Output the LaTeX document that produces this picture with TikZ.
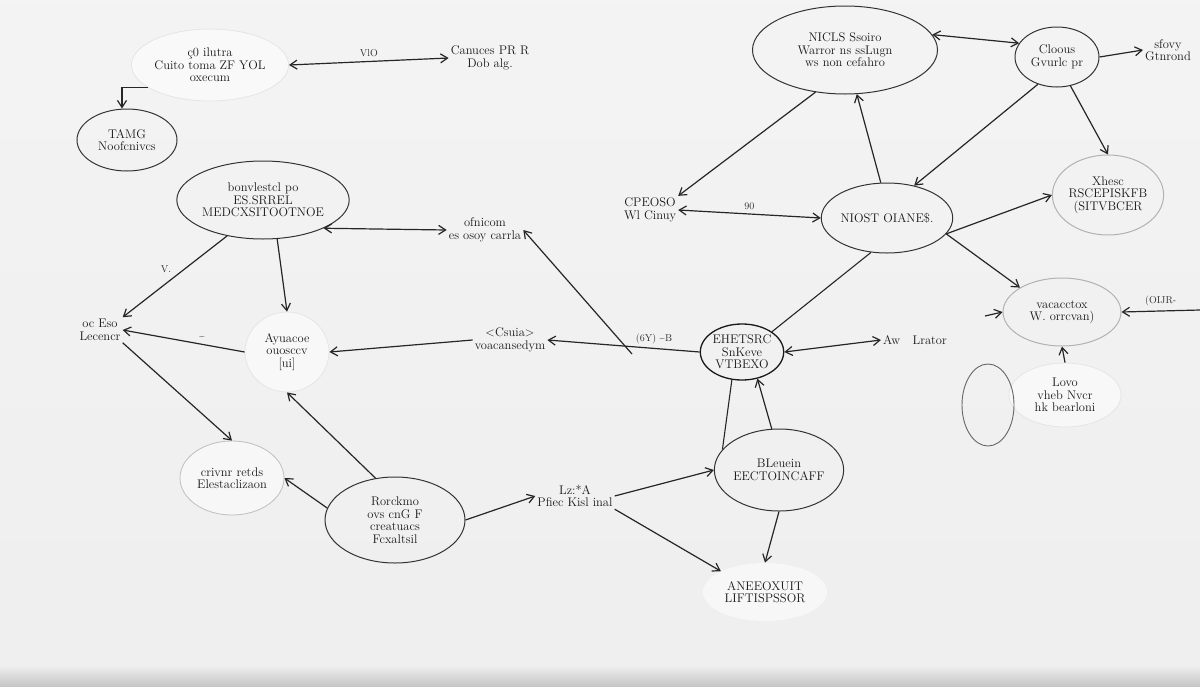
\documentclass[tikz,border=0pt]{standalone}
\usetikzlibrary{shapes.geometric,arrows.meta}
\begin{document}
\begin{tikzpicture}[x=1pt,y=-1pt,
  hand/.style={font=\fontsize{12.5}{12.5}\selectfont, text=black!90, align=center},
  ell/.style={hand, ellipse, draw=black!80, line width=1pt, inner sep=0pt},
  faintell/.style={hand, ellipse, draw=black!10, fill=white, fill opacity=0.5, text opacity=1, line width=0.8pt, inner sep=0pt},
  txt/.style={hand, inner sep=2pt},
  con/.style={draw=black!85, line width=1.2pt, -{Straight Barb[length=7pt,width=9pt]}},
  bi/.style={draw=black!85, line width=1.2pt, {Straight Barb[length=7pt,width=9pt]}-{Straight Barb[length=7pt,width=9pt]}},
  plain/.style={draw=black!85, line width=1.1pt},
  lbl/.style={font=\fontsize{10}{10}\selectfont, text=black!80, inner sep=1pt}
]
% background
\shade[top color=gray!9, bottom color=gray!13] (0,0) rectangle (1200,686);
\shade[top color=gray!13, bottom color=gray!45] (0,666) rectangle (1200,686);
\useasboundingbox (0,0) rectangle (1200,686);

% nodes
\node[faintell, minimum width=135, minimum height=72] (n1) at (210,65) {ç0 ilutra\\ Cuito toma ZF YOL\\ oxecum};
\node[txt] (n2) at (490,58) {Canuces PR R\\ Dob alg.};
\node[ell, minimum width=100, minimum height=62] (n3) at (127,140) {TAMG\\ Noofcnivcs};
\node[ell, minimum width=152, minimum height=78] (n4) at (263,200) {bonvlestcl po\\ ES.SRREL\\ MEDCXSITOOTNOE};
\node[txt] (n5) at (485,230) {ofnicom\\ es osoy carrla};
\node[txt] (n6) at (650,210) {CPEOSO\\ Wl Cinuy};
\node[ell, minimum width=130, minimum height=70] (n7) at (887,218) {NIOST OIANE\$.};
\node[ell, minimum width=185, minimum height=88] (n8) at (845,50) {NICLS Ssoiro\\ Warror ns ssLugn\\ ws non cefahro};
\node[ell, minimum width=84, minimum height=60] (n9) at (1057,57) {Cloous\\ Gvurlc pr};
\node[txt] (n10) at (1168,50) {sfovy\\ Gtnrond};
\node[ell, draw=black!30, minimum width=102, minimum height=80] (n11) at (1108,195) {Xhesc\\ RSCEPISKFB\\ (SITVBCER};
\node[ell, draw=black!30, minimum width=118, minimum height=68] (n12) at (1062,312) {vacacctox\\ W. orrcvan)};
\node[faintell, minimum width=112, minimum height=64] (n14) at (1065,395) {Lovo\\ vheb Nvcr\\ hk bearloni};
\node[ellipse, draw=black!60, line width=0.9pt, minimum width=52, minimum height=82] (c14) at (988,405) {};
\node[txt] (n15) at (100,330) {oc Eso\\ Lecencr};
\node[faintell, minimum width=84, minimum height=80] (n16) at (287,352) {Ayuacoe\\ ouosccv\\ {[ui]}};
\node[txt] (n17) at (510,340) {<Csuia>\\ voacansedym};
\node[ell, draw=black!90, line width=1.3pt, minimum width=68, minimum height=56] (n18) at (742,352) {EHETSRC\\ SnKeve\\ VTBEXO};
\node[txt] (n19) at (915,340) {Aw\quad Lrator};
\node[ell, minimum width=122, minimum height=82] (n20) at (779,470) {BLeuein\\ EECTOINCAFF};
\node[txt] (n21) at (575,496) {Lz:*A\\ Pfiec Kisl inal};
\node[ell, minimum width=140, minimum height=86] (n22) at (395,520) {Rorckmo\\ ovs cnG F\\ creatuacs\\ Fcxaltsil};
\node[faintell, draw=black!25, minimum width=104, minimum height=74] (n23) at (232,478) {crivnr retds\\ Elestaclizaon};
\node[faintell, draw=none, minimum width=124, minimum height=58] (n24) at (765,592) {ANEEOXUIT\\ LIFTISPSSOR};

% free ends
\coordinate (j1) at (632,354);
\coordinate (lft) at (985,316);
\coordinate (rgt) at (1200,310);

% connectors
\draw[bi] (n1.east) -- node[lbl, above=3pt] {VlO} (n2.west);
\draw[con] (n1.200) -| ([xshift=-5pt]n3.north);
\draw[bi] (n4.-25) -- (n5.west);
\draw[con] (n4.225) -- (n15.north east) node[lbl, pos=0.5, above left=2pt] {V.};
\draw[con] (n4.-70) -- (n16.north);
\draw[con] (n16.west) -- node[lbl, above=3pt, pos=0.35] {\textasciitilde} (n15.east);
\draw[con] (n17.west) -- (n16.east);
\draw[con] (n15.south east) -- (n23.north);
\draw[con] (n22.115) -- (n16.south);
\draw[con] (n22.170) -- (n23.east);
\draw[con] (n22.east) -- (n21.west);
\draw[con] (n21.east) -- (n20.west);
\draw[con] (n21.south east) -- (n24.north west);
\draw[con] (n20.south) -- (n24.north);
\draw[con] (n20.100) -- (n18.-60);
\draw[plain] (n18.-110) -- (n20.160);
\draw[con] (n18.west) -- node[lbl, above=3pt, pos=0.3] {(6Y)\ \textasciitilde B} (n17.east);
\draw[con] (j1) -- (n5.east);
\draw[plain] (n18.north east) -- (n7.-115);
\draw[bi] (n18.east) -- (n19.west);
\draw[bi] (n6.east) -- node[lbl, above=3pt] {90} (n7.west);
\draw[con] (n8.235) -- (n6.north east);
\draw[con] (n7.100) -- (n8.-75);
\draw[bi] (n8.10) -- (n9.160);
\draw[con] (n9.east) -- (n10.west);
\draw[con] (n9.235) -- (n7.50);
\draw[con] (n9.-65) -- (n11.north);
\draw[con] (n7.-15) -- (n11.west);
\draw[con] (n7.-15) -- (n12.north west);
\draw[con] (lft) -- (n12.west);
\draw[con] (rgt) -- node[lbl, above=3pt] {(OIJR-} (n12.east);
\draw[con] (n14.north) -- (n12.south);
\end{tikzpicture}
\end{document}
